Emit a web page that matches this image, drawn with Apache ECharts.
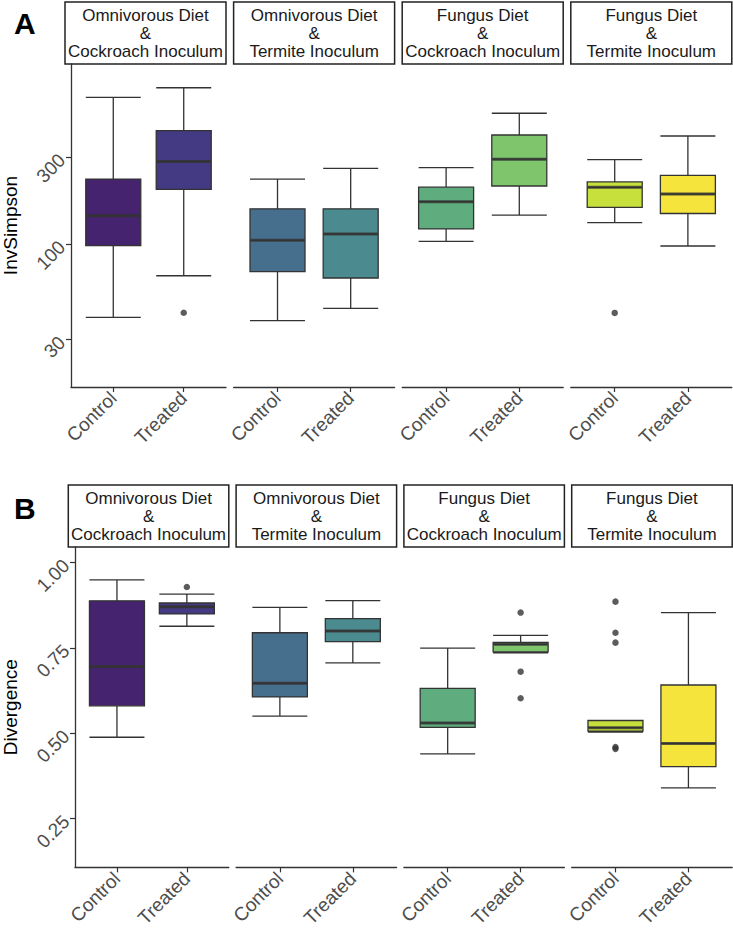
<!DOCTYPE html>
<html>
<head>
<meta charset="utf-8">
<script src="https://cdn.jsdelivr.net/npm/echarts@6/dist/echarts.min.js"></script>
<style>html,body{margin:0;padding:0;background:#fff}#c{width:733px;height:930px}</style>
</head>
<body>
<div id="c"></div>
<script>
// ---------- DATA ----------
const facetLabels = [
  'Omnivorous Diet\n&\nCockroach Inoculum',
  'Omnivorous Diet\n&\nTermite Inoculum',
  'Fungus Diet\n&\nCockroach Inoculum',
  'Fungus Diet\n&\nTermite Inoculum'
];
const groups = ['Control', 'Treated'];
const boxColors = ['#45236e', '#443a83', '#466f8e', '#4b8a8e', '#5fad7e', '#7ec56c', '#c8e03c', '#f5e43c'];

// InvSimpson [min, Q1, median, Q3, max] per facet: [Control, Treated]
const invSimpsonStats = [
  [[39.6, 97.9, 143, 227, 637], [67, 199.5, 283, 418, 719]],
  [[38, 70.5, 104.8, 156, 227], [44.4, 65.1, 113.5, 156, 260]],
  [[103.5, 121, 170.6, 205, 262], [144, 208, 292, 396, 521]],
  [[131, 159, 204.5, 219, 290], [97.5, 147, 188, 238, 391]]
];
const invSimpsonOutliers = [
  [[], [42]],
  [[], []],
  [[], []],
  [[41.9], []]
];
const invSimpsonTicks = [30, 100, 300];

// Divergence [min, Q1, median, Q3, max]
const divergenceStats = [
  [[0.488, 0.580, 0.695, 0.8875, 0.9486], [0.813, 0.849, 0.870, 0.881, 0.907]],
  [[0.550, 0.606, 0.646, 0.794, 0.868], [0.706, 0.768, 0.799, 0.835, 0.888]],
  [[0.439, 0.517, 0.530, 0.631, 0.749], [0.735, 0.738, 0.760, 0.766, 0.786]],
  [[0.503, 0.506, 0.516, 0.537, 0.537], [0.340, 0.402, 0.470, 0.641, 0.853]]
];
const divergenceOutliers = [
  [[], [0.928]],
  [[], []],
  [[], [0.853, 0.680, 0.602]],
  [[0.885, 0.794, 0.765, 0.459, 0.454], []]
];
const divergenceTicks = [0.25, 0.50, 0.75, 1.00];

// ---------- CHART ----------
const FONT = '"Liberation Sans", Arial, Helvetica, sans-serif';
const chart = echarts.init(document.getElementById('c'), null, {renderer: 'svg'});

const panels = [
  {top: 64, height: 323, left0: 65, step: 168.6, width: 161, stripTop: 2,
   yMin: 1.216, yMax: 2.987, tf: v => Math.log10(v), inv: v => String(Math.round(Math.pow(10, v))),
   ticks: invSimpsonTicks, stats: invSimpsonStats, outliers: invSimpsonOutliers, name: 'InvSimpson', nameGap: 51,
   letter: 'A', letterY: 23},
  {top: 547, height: 322, left0: 68.3, step: 167.8, width: 160.5, stripTop: 485,
   yMin: 0.107, yMax: 1.045, tf: v => v, inv: v => v.toFixed(2),
   ticks: divergenceTicks, stats: divergenceStats, outliers: divergenceOutliers, name: 'Divergence', nameGap: 55,
   letter: 'B', letterY: 508}
];

const grids = [], xAxes = [], yAxes = [], series = [], graphics = [];
let gi = 0;
panels.forEach(p => {
  graphics.push({type: 'text', left: 14, top: p.letterY - 15,
    style: {text: p.letter, font: 'bold 30px ' + FONT, fill: '#000'}});
  for (let f = 0; f < 4; f++) {
    const left = p.left0 + f * p.step;
    grids.push({left: left, top: p.top, width: p.width, height: p.height});
    xAxes.push({
      type: 'value', gridIndex: gi, min: 0.4, max: 2.6,
      axisLine: {show: true, lineStyle: {color: '#333', width: 1.3}},
      axisTick: {show: true, length: 5, lineStyle: {color: '#333', width: 1.2}, customValues: [1, 2]},
      axisLabel: {show: true, customValues: [1, 2], rotate: 45, margin: 8, fontSize: 19, color: '#4d4d4d',
        fontFamily: FONT, formatter: v => groups[Math.round(v) - 1]},
      splitLine: {show: false}
    });
    const first = f === 0;
    const tickVals = p.ticks.map(p.tf);
    yAxes.push({
      type: 'value', gridIndex: gi, min: p.yMin, max: p.yMax,
      name: first ? p.name : '', nameLocation: 'middle', nameGap: p.nameGap, nameRotate: 90,
      nameTextStyle: {fontSize: 19, color: '#000', fontFamily: FONT},
      axisLine: {show: first, lineStyle: {color: '#333', width: 1.3}},
      axisTick: {show: first, length: 5, lineStyle: {color: '#333', width: 1.2}, customValues: tickVals},
      axisLabel: {show: first, customValues: tickVals, rotate: 45, margin: 9, fontSize: 19, color: '#4d4d4d',
        fontFamily: FONT, formatter: v => p.inv(v)},
      splitLine: {show: false}
    });
    // strip
    graphics.push({type: 'rect', shape: {x: left, y: p.stripTop, width: p.width, height: p.top - p.stripTop},
      style: {fill: '#fff', stroke: '#222', lineWidth: 1.5}});
    graphics.push({type: 'text', x: left + p.width / 2, y: p.stripTop + (p.top - p.stripTop) / 2,
      style: {text: facetLabels[f], font: '17px ' + FONT, fill: '#1a1a1a', align: 'center',
        verticalAlign: 'middle', lineHeight: 18}});

    const boxData = p.stats[f].map((s, k) => ({
      value: [k + 1].concat(s.map(p.tf)),
      itemStyle: {color: boxColors[f * 2 + k], borderColor: '#333', borderWidth: 1.3}
    }));
    series.push({type: 'boxplot', xAxisIndex: gi, yAxisIndex: gi, boxWidth: [55, 55], data: boxData,
      silent: true, itemStyle: {borderColor: '#333', borderWidth: 1.3}});
    series.push({type: 'scatter', xAxisIndex: gi, yAxisIndex: gi, symbol: 'rect', symbolSize: [54, 3],
      itemStyle: {color: '#333'}, silent: true, z: 5,
      data: p.stats[f].map((s, k) => [k + 1, p.tf(s[2])])});
    const outs = [];
    p.outliers[f].forEach((arr, k) => arr.forEach(v => outs.push([k + 1, p.tf(v)])));
    series.push({type: 'scatter', xAxisIndex: gi, yAxisIndex: gi, symbol: 'circle', symbolSize: 6.5,
      itemStyle: {color: '#333'}, silent: true, z: 6, data: outs});
    gi++;
  }
});

chart.setOption({
  animation: false,
  backgroundColor: '#fff',
  textStyle: {fontFamily: FONT},
  grid: grids, xAxis: xAxes, yAxis: yAxes, series: series, graphic: graphics
});
</script>
</body>
</html>
